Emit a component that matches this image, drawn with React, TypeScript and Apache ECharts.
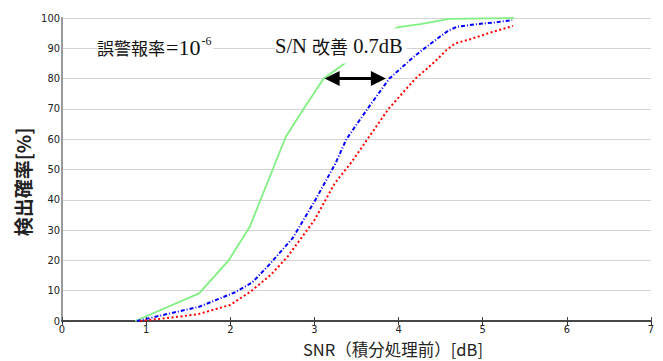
import { useEffect, useRef } from "react";
import * as echarts from "echarts";

// Detection probability curves (SNR before integration [dB] vs Pd [%])
const greenSnr = [0.87, 1.63, 1.98, 2.23, 2.66, 2.87, 3.11, 3.86, 4.0, 4.26, 4.6, 5.37];
const greenPd = [0, 9.1, 20, 31, 60.8, 70, 80, 95, 97, 98, 99.7, 100];

const blueSnr = [0.89, 1.63, 2.05, 2.26, 2.46, 2.74, 3.0, 3.25, 3.38, 3.63, 3.89, 4.18, 4.28, 4.49, 4.59, 4.69, 4.91, 5.13, 5.35];
const bluePd = [0, 4.7, 9.4, 12.7, 18.5, 27.3, 39.4, 52, 60, 70, 80, 87.2, 89.4, 93.8, 95.8, 97.1, 97.9, 98.5, 99.3];

const redSnr = [0.93, 1.2, 1.61, 2.0, 2.24, 2.48, 2.68, 3.0, 3.24, 3.44, 3.63, 3.88, 4.2, 4.33, 4.45, 4.56, 4.67, 4.85, 5.07, 5.36];
const redPd = [0, 0.8, 2.2, 5.3, 9.7, 15.2, 21.2, 33.3, 45.4, 52.4, 60, 70, 80, 83.1, 86.1, 89.2, 91.6, 93, 95, 97.4];

// Arrow annotation (S/N improvement 0.7 dB at Pd = 80 %)
const arrowLevel = [80];
const arrowSnr = [3.21, 3.76];

const xName = "SNR（積分処理前）[dB]";
const yName = "検出確率[%]";

const tickFont = "'Liberation Sans Narrow', 'DejaVu Sans Condensed', 'Liberation Sans', sans-serif";
const cjkFont = "'Noto Sans CJK JP', 'Noto Sans', sans-serif";
const serifFont = "'Liberation Serif', 'DejaVu Serif', serif";

const pairs = (xs: number[], ys: number[]) => xs.map((x, i) => [x, ys[i]]);

export default function App() {
  const ref = useRef<HTMLDivElement>(null);
  useEffect(() => {
    if (!ref.current) return;
    const chart = echarts.init(ref.current, null, { renderer: "svg" });
    const option: any = {
      animation: false,
      backgroundColor: "#ffffff",
      grid: { left: 62, right: 12, top: 18, bottom: 40, show: false },
      xAxis: [
        {
          type: "value",
          min: 0,
          max: 7,
          interval: 1,
          position: "bottom",
          axisLine: { show: true, lineStyle: { color: "#858585", width: 2 } },
          axisTick: { show: true, inside: true, length: 4, lineStyle: { color: "#444", width: 1 } },
          axisLabel: { color: "#222", fontSize: 11, fontFamily: tickFont, margin: 3 },
          splitLine: { show: false },
        },
        {
          type: "value",
          min: 0,
          max: 7,
          interval: 1,
          position: "top",
          axisLine: { show: true, lineStyle: { color: "#333", width: 1.5 } },
          axisTick: { show: true, inside: true, length: 4, lineStyle: { color: "#333", width: 1 } },
          axisLabel: { show: false },
          splitLine: { show: false },
        },
      ],
      yAxis: [
        {
          type: "value",
          min: 0,
          max: 100,
          interval: 10,
          position: "left",
          axisLine: { show: true, lineStyle: { color: "#858585", width: 1.5 } },
          axisTick: { show: false },
          axisLabel: { color: "#222", fontSize: 11, fontFamily: tickFont, margin: 2 },
          splitLine: { show: true, lineStyle: { color: "#d4d4d4", width: 1 } },
        },
        {
          type: "value",
          min: 0,
          max: 100,
          interval: 10,
          position: "right",
          axisLine: { show: true, lineStyle: { color: "#9a9a9a", width: 2 } },
          axisTick: { show: false },
          axisLabel: { show: false },
          splitLine: { show: false },
        },
      ],
      series: [
        {
          type: "line",
          name: "green",
          data: pairs(greenSnr, greenPd),
          symbol: "none",
          lineStyle: { color: "#80f080", width: 1.8 },
          z: 2,
          markLine: {
            silent: true,
            symbol: ["triangle", "triangle"],
            symbolSize: [15, 15],
            label: { show: false },
            lineStyle: { color: "#000", width: 3, type: "solid" },
            emphasis: { disabled: true },
            data: [[{ coord: [arrowSnr[0], arrowLevel[0]] }, { coord: [arrowSnr[1], arrowLevel[0]] }]],
          },
        },
        {
          type: "line",
          name: "blue",
          data: pairs(blueSnr, bluePd),
          symbol: "none",
          lineStyle: { color: "#0000ff", width: 2, type: [4, 2, 1, 2] },
          z: 3,
        },
        {
          type: "line",
          name: "red",
          data: pairs(redSnr, redPd),
          symbol: "none",
          lineStyle: { color: "#ff0000", width: 2, type: [2, 2.5] },
          z: 3,
        },
      ],
      graphic: [
        {
          type: "text",
          x: 22,
          y: 182,
          rotation: Math.PI / 2,
          style: {
            text: yName,
            fontSize: 19,
            fontFamily: cjkFont,
            fontWeight: "bold",
            fill: "#222",
            align: "center",
            verticalAlign: "middle",
          },
        },
        {
          type: "text",
          x: 393,
          y: 349,
          style: {
            text: xName,
            fontSize: 16.5,
            fontFamily: cjkFont,
            fill: "#222",
            align: "center",
            verticalAlign: "middle",
          },
        },
        {
          type: "text",
          x: 97,
          y: 47,
          z: 100,
          style: {
            text: "{k|誤警報率}{l|=10}{s|-6}",
            align: "left",
            verticalAlign: "middle",
            fill: "#111",
            backgroundColor: "#ffffff",
            padding: [2, 2, 2, 0],
            rich: {
              k: { fontSize: 17, fontFamily: cjkFont, fill: "#111", lineHeight: 24 },
              l: { fontSize: 22, fontFamily: serifFont, fill: "#111", lineHeight: 24, padding: [0, 1, 0, 1] },
              s: { fontSize: 12, fontFamily: serifFont, fill: "#111", lineHeight: 24, verticalAlign: "top" },
            },
          },
        },
        {
          type: "text",
          x: 275,
          y: 46,
          z: 100,
          style: {
            text: "{l|S/N }{k|改善}{l| 0.7dB}",
            align: "left",
            verticalAlign: "middle",
            fill: "#111",
            backgroundColor: "#ffffff",
            padding: [5, 4, 6, 0],
            rich: {
              k: { fontSize: 18, fontFamily: cjkFont, fill: "#111", lineHeight: 24 },
              l: { fontSize: 20.5, fontFamily: serifFont, fill: "#111", lineHeight: 24 },
            },
          },
        },
      ],
    };
    chart.setOption(option);
    return () => chart.dispose();
  }, []);
  return (
    <div
      ref={ref}
      style={{ position: "fixed", left: 0, top: 0, width: 663, height: 361, background: "#fff" }}
    />
  );
}
